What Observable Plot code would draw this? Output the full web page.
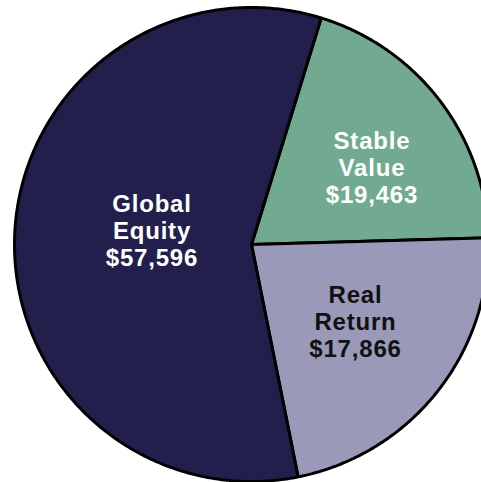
<!DOCTYPE html>
<html><head><meta charset="utf-8">
<script src="https://cdn.jsdelivr.net/npm/d3@7"></script>
<script src="https://cdn.jsdelivr.net/npm/@observablehq/plot@0.6"></script>
<style>html,body{margin:0;padding:0;background:#fff;overflow:hidden} svg text{letter-spacing:0.8px}</style>
</head><body><div id="chart"></div>
<script>
// Data
const categories = ["Stable Value", "Real Return", "Global Equity"];
const nameLines = [["Stable", "Value"], ["Real", "Return"], ["Global", "Equity"]];
const amounts = ["$19,463", "$17,866", "$57,596"];
const shares = [19.8, 22.3, 57.9]; // share of the circle, % (as drawn)

// Styles / layout
const sliceColors = ["#72aa91", "#9a99b9", "#221f4c"];
const textColors = ["#ffffff", "#111111", "#ffffff"];
const labelRadius = [0.603, 0.546, 0.424];
const labelTurnDeg = [4.7, -2, 5.1];
const startDeg = 17.1;

const rad = Math.PI / 180;
const a0 = startDeg * rad;
const pie = d3.pie().sort(null).value(d => d.share).startAngle(a0).endAngle(a0 + 2 * Math.PI);
const table = categories.map((c, i) => ({name: c, share: shares[i], i}));
const arcs = pie(table);

const polys = arcs.map(a => {
  const pts = [{x: 0, y: 0}];
  const n = Math.max(2, Math.ceil((a.endAngle - a.startAngle) / (Math.PI / 360)));
  for (let k = 0; k <= n; k++) {
    const t = a.startAngle + (a.endAngle - a.startAngle) * k / n;
    pts.push({x: Math.sin(t), y: Math.cos(t)});
  }
  return {pts, i: a.data.i};
});

const labels = arcs.map(a => {
  const i = a.data.i;
  const m = (a.startAngle + a.endAngle) / 2 + labelTurnDeg[i] * rad;
  const r = labelRadius[i];
  return {
    x: Math.sin(m) * r,
    y: Math.cos(m) * r,
    text: [...nameLines[i], amounts[i]].join("\n"),
    color: textColors[i]
  };
});

const chart = Plot.plot({
  width: 481,
  height: 482,
  margin: 0,
  style: {background: "#fff", overflow: "hidden"},
  x: {domain: [-1, 1], range: [14, 488], axis: null},
  y: {domain: [-1, 1], range: [481, 7], axis: null},
  marks: [
    ...polys.map(p => Plot.line(p.pts, {
      x: "x", y: "y",
      fill: sliceColors[p.i],
      stroke: "#000",
      strokeWidth: 3,
      strokeLinejoin: "miter",
      curve: "linear-closed"
    })),
    Plot.text(labels, {
      x: "x", y: "y", text: "text",
      fill: "color",
      fontSize: 24,
      fontWeight: "bold",
      lineHeight: 1.125,
      fontFamily: "Liberation Sans, Arial, sans-serif"
    })
  ]
});
document.getElementById("chart").appendChild(chart);
</script>
</body></html>
